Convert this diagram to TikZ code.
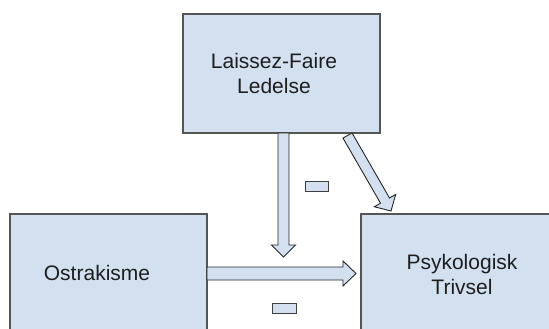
\documentclass[tikz,border=0pt]{standalone}
\usepackage{fontspec}
\setmainfont{Liberation Sans}
\usetikzlibrary{calc}
\definecolor{boxfill}{HTML}{D3E0F0}
\definecolor{boxline}{HTML}{555555}
\definecolor{txt}{HTML}{1E1E1E}
\newcommand\blockarrow[5]{%
  \coordinate (ba-c) at ($(#2)!#5!(#1)$);
  \draw[arrowshape] ($(#1)!#3!90:(#2)$) -- ($(ba-c)!#3!90:(#2)$) -- ($(ba-c)!#4!90:(#2)$)
    -- (#2) -- ($(ba-c)!#4!-90:(#2)$) -- ($(ba-c)!#3!-90:(#2)$) -- ($(#1)!#3!-90:(#2)$) -- cycle;}
\tikzset{
  box/.style={draw=boxline, fill=boxfill, line width=1.1pt},
  arrowshape/.style={draw=black!85, fill=boxfill, line width=0.9pt, line join=miter},
  minusbox/.style={draw=black!75, fill=boxfill, line width=0.9pt},
  label/.style={text=txt, font=\fontsize{21}{25}\selectfont, align=center, inner sep=0pt}
}
\begin{document}
\begin{tikzpicture}[x=1pt, y=-1pt]
\path[use as bounding box, clip] (0,0) rectangle (549,329);
\fill[white] (0,0) rectangle (549,329);
% boxes
\draw[box] (183,14) rectangle (380,133);
\draw[box] (10,214) rectangle (207,345);
\draw[box] (361,214) rectangle (565,345);
% named anchor points
\coordinate (vA) at (283.5,133);
\coordinate (vB) at (283.5,257);
\coordinate (hA) at (207,273.5);
\coordinate (hB) at (356,273.5);
\coordinate (dA) at (347.5,135.5);
\coordinate (dB) at (391,211);
% arrows
\blockarrow{vA}{vB}{5.5pt}{12pt}{12pt}
\blockarrow{hA}{hB}{6.5pt}{12.5pt}{13pt}
\blockarrow{dA}{dB}{5.2pt}{12.3pt}{12pt}
% minus signs
\draw[minusbox] (305,181) rectangle (328,191);
\draw[minusbox] (272,303) rectangle (296,313);
% texts
\node[label] (laissez) at (274,73) {Laissez-Faire\\Ledelse};
\node[label] (ostra) at (97,273) {Ostrakisme};
\node[label] (psyk) at (462,274) {Psykologisk\\Trivsel};
\end{tikzpicture}
\end{document}
